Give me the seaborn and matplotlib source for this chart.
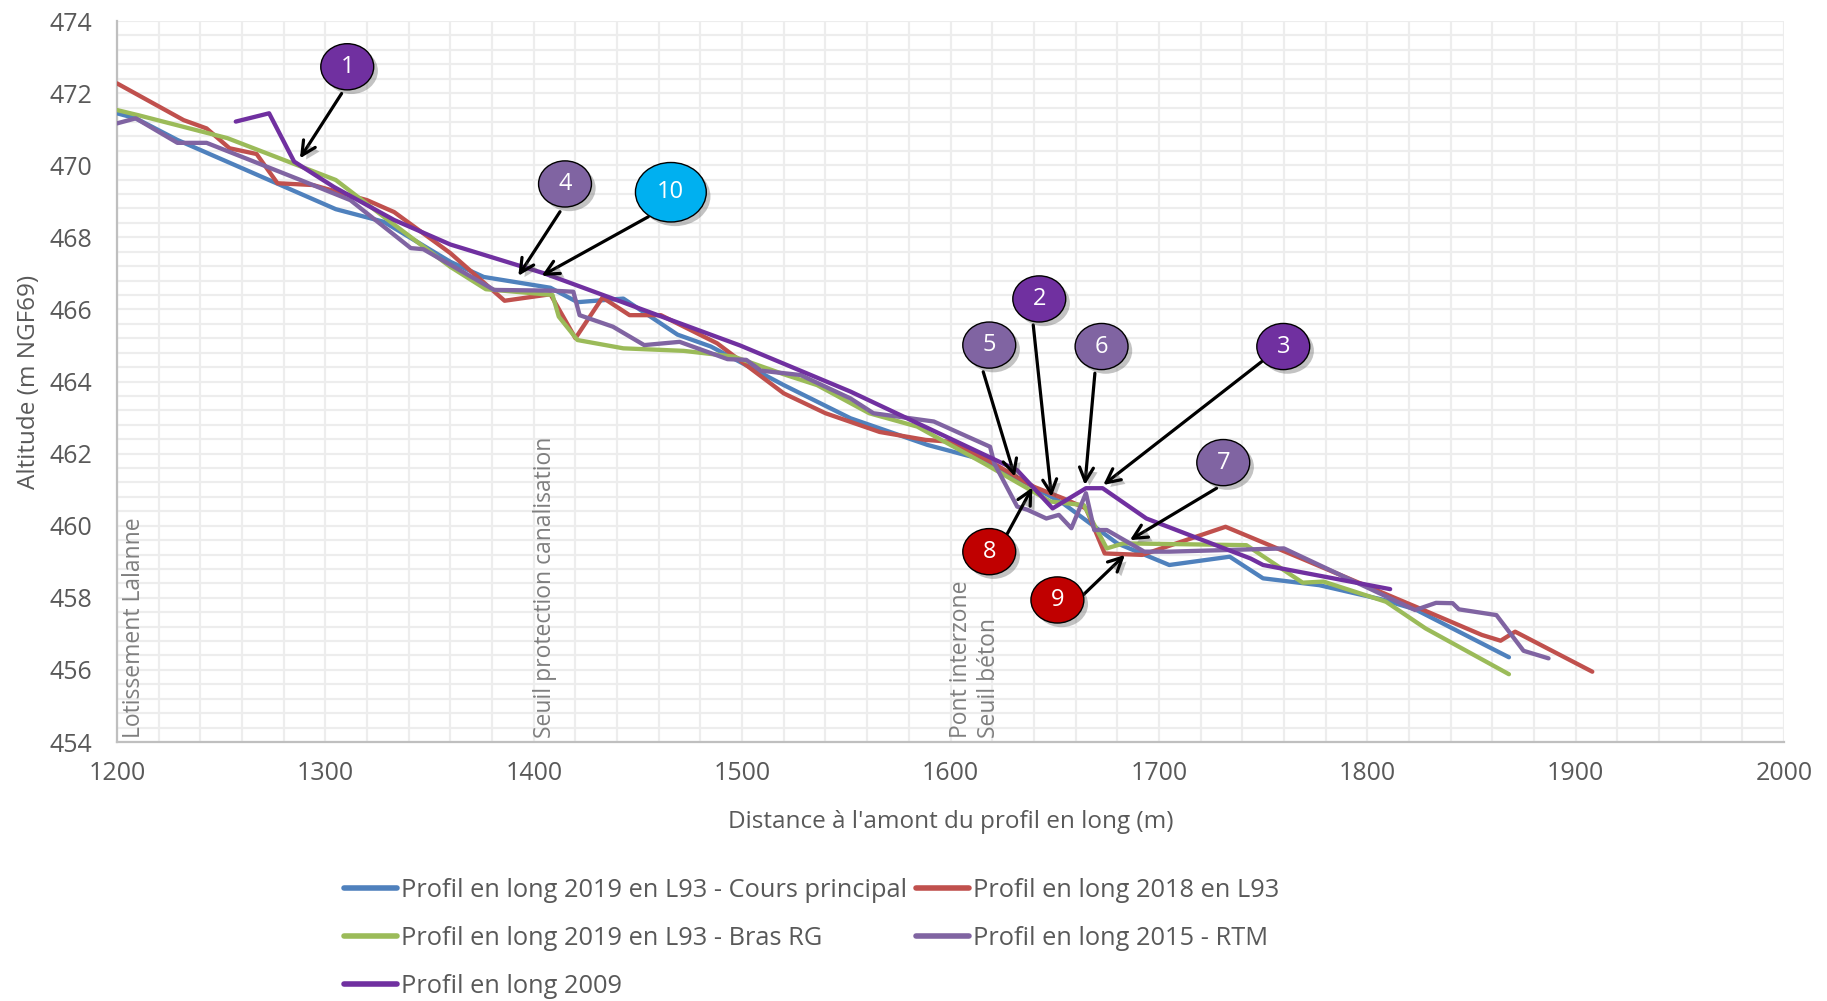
import numpy as np
import pandas as pd
import seaborn as sns
import matplotlib.pyplot as plt
from matplotlib.patches import Ellipse
from matplotlib.lines import Line2D
from matplotlib import patheffects as pe

# profils en long (distance m, altitude m NGF69)
blue_x = [1200, 1209, 1229, 1305, 1328, 1360, 1376, 1408, 1421, 1443, 1469, 1485, 1520, 1552,
          1589, 1613, 1638, 1654, 1680, 1705, 1734, 1750, 1777, 1808, 1823, 1868]
blue_y = [471.44, 471.30, 470.70, 468.78, 468.43, 467.32, 466.90, 466.60, 466.20, 466.30, 465.30,
          464.97, 463.90, 462.98, 462.24, 461.87, 461.13, 460.62, 459.51, 458.91, 459.14, 458.54,
          458.35, 457.94, 457.68, 456.35]

red_x = [1200, 1232, 1243, 1254, 1267, 1277, 1294, 1320, 1333, 1360, 1386, 1408, 1420, 1433, 1446,
         1461, 1488, 1520, 1540, 1552, 1566, 1588, 1600, 1619, 1640, 1654, 1665, 1674, 1692, 1732,
         1768, 1825, 1855, 1864, 1871, 1908]
red_y = [472.27, 471.25, 471.02, 470.47, 470.31, 469.50, 469.45, 469.03, 468.70, 467.56, 466.24,
         466.42, 465.20, 466.33, 465.84, 465.84, 465.06, 463.67, 463.12, 462.88, 462.60, 462.38,
         462.33, 461.78, 461.08, 460.76, 460.48, 459.23, 459.19, 459.97, 459.10, 457.71, 456.97,
         456.81, 457.06, 455.95]

green_x = [1200, 1210, 1253, 1305, 1328, 1360, 1377, 1409, 1412, 1421, 1443, 1472, 1496, 1520, 1536,
           1561, 1584, 1616, 1648, 1664, 1675, 1683, 1742, 1769, 1779, 1809, 1828, 1868]
green_y = [471.53, 471.39, 470.75, 469.59, 468.57, 467.18, 466.56, 466.40, 465.80, 465.15, 464.92,
           464.85, 464.69, 464.20, 463.90, 463.12, 462.75, 461.73, 460.67, 460.57, 459.37, 459.51,
           459.46, 458.42, 458.45, 457.89, 457.15, 455.88]

rtm_x = [1200, 1209, 1229, 1243, 1288, 1312, 1341, 1347, 1381, 1409, 1419, 1422, 1438, 1453, 1470,
         1493, 1502, 1509, 1528, 1552, 1563, 1592, 1619, 1621, 1632, 1637, 1646, 1652, 1658, 1665,
         1669, 1675, 1693, 1705, 1760, 1823, 1833, 1841, 1844, 1862, 1875, 1887]
rtm_y = [471.16, 471.30, 470.62, 470.62, 469.59, 469.03, 467.70, 467.67, 466.54, 466.52, 466.49,
         465.84, 465.52, 465.01, 465.10, 464.62, 464.60, 464.30, 464.18, 463.53, 463.12, 462.89,
         462.19, 461.73, 460.53, 460.44, 460.20, 460.30, 459.93, 460.90, 459.88, 459.88, 459.28,
         459.28, 459.37, 457.66, 457.86, 457.85, 457.68, 457.52, 456.53, 456.32]

p2009_x = [1257, 1273, 1285, 1304, 1333, 1360, 1405, 1499, 1552, 1632, 1649, 1665, 1673, 1694,
           1744, 1750, 1811]
p2009_y = [471.21, 471.44, 470.10, 469.40, 468.48, 467.80, 467.00, 465.00, 463.72, 461.54, 460.48,
           461.04, 461.04, 460.20, 459.09, 458.91, 458.24]

names = ["Profil en long 2019 en L93 - Cours principal",
         "Profil en long 2018 en L93",
         "Profil en long 2019 en L93 - Bras RG",
         "Profil en long 2015 - RTM",
         "Profil en long 2009"]
colors = ["#4F81BD", "#C0504D", "#9BBB59", "#8064A2", "#7030A0"]

# repères : numéro, centre de la bulle, départ et pointe de la flèche
marks = ["1", "2", "3", "4", "5", "6", "7", "8", "9", "10"]
mark_center = [(1310.5, 472.73), (1642.6, 466.29), (1759.7, 464.97), (1415.0, 469.48),
               (1618.6, 465.01), (1672.5, 464.97), (1730.9, 461.75), (1618.6, 459.28),
               (1651.3, 457.94), (1465.8, 469.25)]
arrow_tail = [(1307.8, 471.99), (1639.7, 465.57), (1749.3, 464.55), (1412.6, 468.71),
              (1615.7, 464.27), (1669.3, 464.23), (1727.7, 461.04), (1626.9, 459.74),
              (1663.7, 458.08), (1455.0, 468.57)]
arrow_head = [(1287.8, 470.19), (1648.5, 460.80), (1673.3, 461.13), (1392.6, 466.93),
              (1630.9, 461.36), (1664.5, 461.13), (1686.1, 459.60), (1639.3, 461.06),
              (1683.7, 459.19), (1403.8, 466.93)]
mark_color = ["#7030A0", "#7030A0", "#7030A0", "#8064A2", "#8064A2", "#8064A2", "#8064A2",
              "#C00000", "#C00000", "#00B0F0"]

sites = ["Lotissement Lalanne", "Seuil protection canalisation", "Pont interzone\nSeuil béton"]
site_x = [1208, 1405.4, 1611.7]

sns.set_style("white")
plt.rcParams['font.family'] = ['Open Sans', 'DejaVu Sans']

grey = "#595959"
fig = plt.figure(figsize=(18.27, 10.01), dpi=100)
ax = fig.add_axes([117 / 1827, 1 - 742 / 1001, 1667 / 1827, 721 / 1001])

frames = []
for name, xs, ys in zip(names, [blue_x, red_x, green_x, rtm_x, p2009_x],
                        [blue_y, red_y, green_y, rtm_y, p2009_y]):
    frames.append(pd.DataFrame({"distance": xs, "altitude": ys, "serie": name}))
df = pd.concat(frames, ignore_index=True)

sns.lineplot(data=df, x="distance", y="altitude", hue="serie", hue_order=names,
             palette=colors, sort=False, estimator=None, lw=3.1, legend=False, ax=ax, zorder=3)

ax.set_xlim(1200, 2000)
ax.set_ylim(454, 474)
ax.set_xticks(np.arange(1200, 2001, 100))
ax.set_xticks(np.arange(1200, 2001, 20), minor=True)
ax.set_yticks(np.arange(454, 475, 2))
ax.set_yticks(np.arange(454, 474.01, 0.4), minor=True)
ax.grid(which="both", color="#EDEDED", lw=1.6)
ax.set_axisbelow(True)
ax.tick_params(which="both", length=0, labelsize=18, labelcolor=grey)
ax.tick_params(axis="y", pad=18)
ax.tick_params(axis="x", pad=14)
for s in ["top", "right"]:
    ax.spines[s].set_visible(False)
for s in ["left", "bottom"]:
    ax.spines[s].set_color("#BFBFBF")
    ax.spines[s].set_linewidth(1.6)

ax.set_xlabel("Distance à l'amont du profil en long (m)", fontsize=17.5, color=grey, labelpad=17)
ax.set_ylabel("Altitude (m NGF69)", fontsize=17.5, color=grey, labelpad=6)

for txt, sx in zip(sites, site_x):
    ax.text(sx, 454.1, txt, rotation=90, ha="center", va="bottom", multialignment="left",
            fontsize=16.5, color="#7F7F7F", zorder=2)

shadow = [pe.SimplePatchShadow(offset=(3, -3), shadow_rgbFace="#555555", alpha=0.35), pe.Normal()]
for lab, c, t, h, col in zip(marks, mark_center, arrow_tail, arrow_head, mark_color):
    ax.annotate("", xy=h, xytext=t, zorder=5,
                arrowprops=dict(arrowstyle="->,head_length=1.0,head_width=0.5", color="black",
                                lw=2.3, shrinkA=0, shrinkB=0, path_effects=shadow))
    w, hgt = (34, 1.65) if lab == "10" else (25.4, 1.28)
    e = Ellipse(c, w, hgt, facecolor=col, edgecolor="black", lw=1.0, zorder=6)
    e.set_path_effects(shadow)
    ax.add_patch(e)
    ax.text(c[0], c[1], lab, ha="center", va="center", color="white", fontsize=17, zorder=7)

handles = [Line2D([0], [0], color=c, lw=4) for c in colors]
order = [0, 2, 4, 1, 3]
leg = fig.legend([handles[i] for i in order], [names[i] for i in order],
                 loc="upper left", bbox_to_anchor=(344 / 1827, 1 - 878 / 1001), ncol=2,
                 frameon=False, fontsize=18.3, handlelength=2.1, handletextpad=0.15,
                 columnspacing=0.35, labelspacing=0.9, borderaxespad=0, borderpad=0)
for t in leg.get_texts():
    t.set_color(grey)

fig.savefig("out.png", dpi=100)
